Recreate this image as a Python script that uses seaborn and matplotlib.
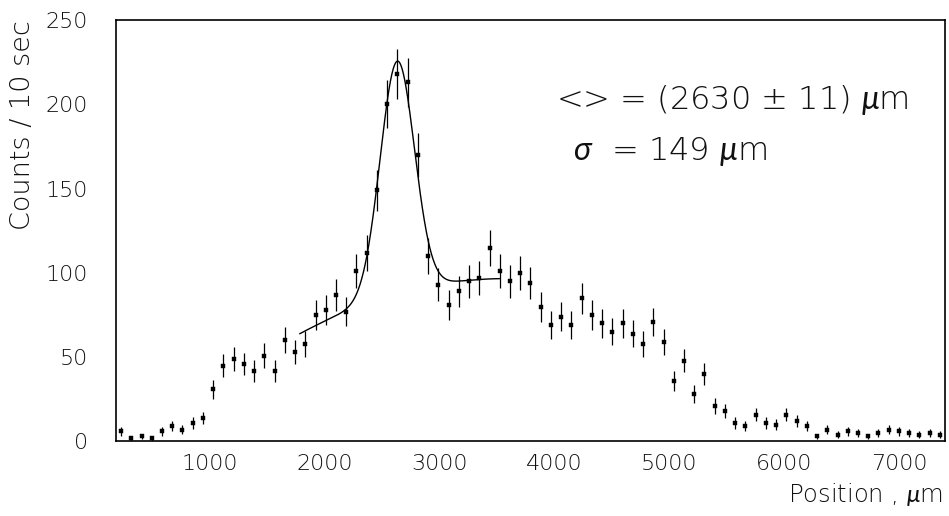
import numpy as np
import pandas as pd
import matplotlib
matplotlib.use("Agg")
import matplotlib.pyplot as plt
from matplotlib.ticker import MultipleLocator
import seaborn as sns

# Histogram of the beam position scan
x_lo, x_hi = 180.0, 7400.0
n_bins = 81
counts = [6, 2, 3, 2, 6, 9, 7, 11, 14, 31,
          45, 49, 46, 42, 51, 42, 60, 53, 58, 75,
          78, 87, 77, 101, 112, 149, 200, 218, 213, 170,
          110, 93, 81, 89, 95, 97, 115, 101, 95, 100,
          94, 80, 69, 74, 69, 85, 75, 70, 65, 70,
          64, 58, 71, 59, 36, 48, 28, 40, 21, 18,
          11, 9, 16, 11, 10, 16, 12, 9, 3, 7,
          4, 6, 5, 3, 5, 7, 6, 5, 4, 5,
          4]

# Fit: Gaussian peak on a quadratic background
fit_range = (1780.0, 3520.0)
fit_amp = 138.0
fit_mean = 2630.0
fit_mean_err = 11.0
fit_sigma = 149.0
bkg_coef = [-33.6, 0.07296, -1.022e-5]

x_ticks = [1000, 2000, 3000, 4000, 5000, 6000, 7000]
y_ticks = [0, 50, 100, 150, 200, 250]

edges = np.linspace(x_lo, x_hi, n_bins + 1)
centers = 0.5 * (edges[:-1] + edges[1:])
df = pd.DataFrame({"position": centers, "counts": counts})
df["err"] = np.sqrt(df["counts"])

xf = np.linspace(fit_range[0], fit_range[1], 600)
yf = (fit_amp * np.exp(-0.5 * ((xf - fit_mean) / fit_sigma) ** 2)
      + bkg_coef[0] + bkg_coef[1] * xf + bkg_coef[2] * xf ** 2)
fit_df = pd.DataFrame({"position": xf, "counts": yf})

sns.set_theme(style="white")
plt.rcParams["font.family"] = ["DejaVu Sans"]
plt.rcParams["font.weight"] = "light"
plt.rcParams["axes.labelweight"] = "light"
plt.rcParams["mathtext.fontset"] = "custom"
plt.rcParams["mathtext.rm"] = "DejaVu Sans:light"
plt.rcParams["mathtext.it"] = "Lato:italic:normal"
plt.rcParams["mathtext.sf"] = "DejaVu Sans:light"

text_color = "#111111"

fig = plt.figure(figsize=(9.49, 5.16), dpi=100)
ax = fig.add_axes([0.1222, 0.1444, 0.8736, 0.8168])

ax.errorbar(df["position"], df["counts"], yerr=df["err"], fmt="none",
            ecolor="black", elinewidth=0.9, capsize=0, zorder=2)
sns.scatterplot(data=df, x="position", y="counts", ax=ax, marker="s",
                s=7, color="black", edgecolor="black", linewidth=0.3, zorder=3)
sns.lineplot(data=fit_df, x="position", y="counts", ax=ax, color="black",
             linewidth=1.0, zorder=4)

ax.set_xlim(x_lo, x_hi)
ax.set_ylim(0, 250)
ax.set_xticks(x_ticks)
ax.set_yticks(y_ticks)
ax.xaxis.set_minor_locator(MultipleLocator(200))
ax.yaxis.set_minor_locator(MultipleLocator(10))
ax.tick_params(axis="both", which="major", direction="in", length=13,
               width=1.0, color="black", labelsize=16, labelcolor=text_color)
ax.tick_params(axis="both", which="minor", direction="in", length=6.5,
               width=1.0, color="black")
ax.tick_params(axis="x", which="major", pad=9)
ax.tick_params(axis="y", which="major", pad=20)
ax.tick_params(top=False, right=False, which="both")
for sp in ax.spines.values():
    sp.set_color("black")
    sp.set_linewidth(1.2)
    sp.set_visible(True)

ax.set_xlabel(r"Position , $\mu$m", fontsize=17.5, color=text_color,
              loc="right", fontweight="light")
ax.set_ylabel("Counts / 10 sec", fontsize=19.5, color=text_color,
              loc="top", fontweight="light")
ax.xaxis.set_label_coords(0.997, -0.093)
ax.yaxis.set_label_coords(-0.098, 1.0)

ax.text(0.531, 0.81,
        r"<> = (%d $\pm$ %d) $\mu$m" % (fit_mean, fit_mean_err),
        transform=ax.transAxes, fontsize=23, color=text_color,
        ha="left", va="center", fontweight="light")
ax.text(0.551, 0.687, r"$\sigma$  = %d $\mu$m" % fit_sigma,
        transform=ax.transAxes, fontsize=23, color=text_color,
        ha="left", va="center", fontweight="light")

fig.savefig("out.png", dpi=100, facecolor="white")
